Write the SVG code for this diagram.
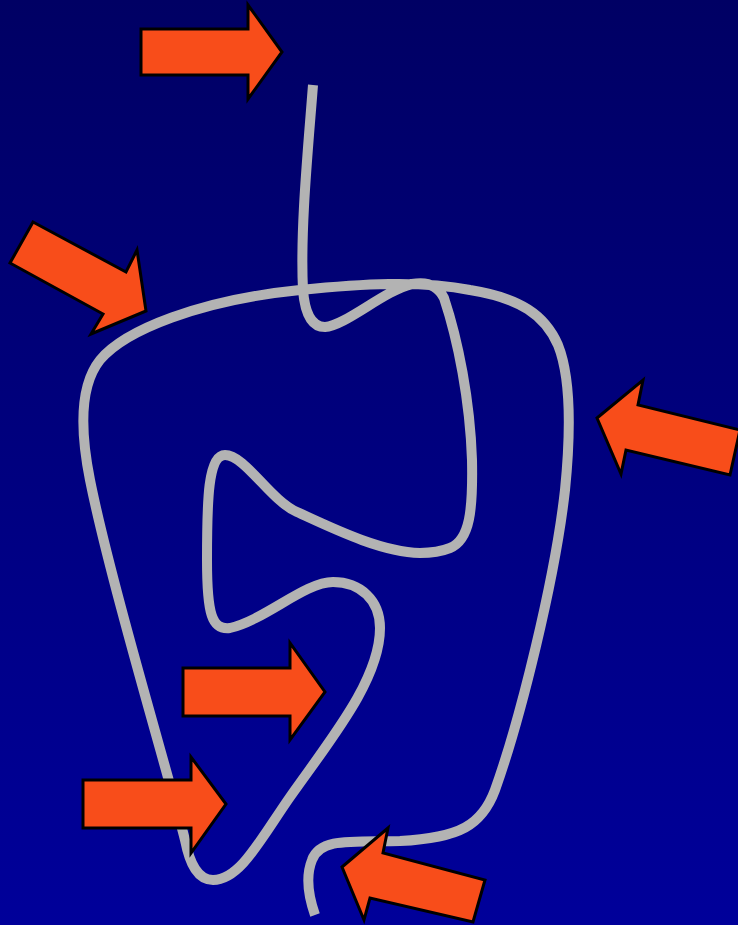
<svg xmlns="http://www.w3.org/2000/svg" width="738" height="925" viewBox="0 0 738 925">
  <defs>
    <linearGradient id="bg" x1="0" y1="0" x2="0" y2="1">
      <stop offset="0" stop-color="#000064"/>
      <stop offset="1" stop-color="#00009a"/>
    </linearGradient>
  </defs>
  <style>
    .rope { fill: none; stroke: #b3b3b3; stroke-width: 10; stroke-linecap: butt; stroke-linejoin: round; }
    .arrow { fill: #f84d1a; stroke: #000; stroke-width: 3; stroke-linejoin: miter; }
  </style>
  <rect x="0" y="0" width="738" height="925" fill="url(#bg)"/>
  <g id="rope">
    <path class="rope" d="M313,85 C308,150 300,230 303,290 C305,315 312,327 325,327 C345,326 385,290 412,284 C428,281 438,286 444,298 C458,340 470,400 472,460 C473,510 470,540 450,548 C440,552 430,553 420,553 C380,552 330,527 297,512 C270,500 245,455 225,455 C208,455 207,500 207,560 C207,615 212,630 230,628 C265,620 305,582 333,582 C360,582 380,600 380,628 C380,680 330,740 290,797 C260,840 240,880 213,880 C198,880 190,865 185,840 C170,780 110,580 90,480 C80,430 80,385 100,360 C125,330 200,300 300,290 C360,284 420,280 470,290 C520,298 545,315 558,345 C572,380 570,440 565,490 C555,580 520,720 495,790 C482,825 460,838 400,841 C350,842 320,838 312,860 C306,875 308,895 315,915"/>
  </g>
  <g id="arrows">
    <g id="arrow-top"><polygon class="arrow" points="141,29 248,29 248,5 282,52 248,99 248,75 141,75"/></g>
    <g id="arrow-topleft"><polygon class="arrow" points="33,222 126,272 137,250 146,311 91,334 103,314 10,263"/></g>
    <g id="arrow-right"><polygon class="arrow" points="597,418 643,380 638,405 740,430 730,475 626,450 621,474"/></g>
    <g id="arrow-bottomright"><polygon class="arrow" points="342,867 388,828 383,853 485,880 473,922 370,898 364,920"/></g>
    <g id="arrow-middle"><polygon class="arrow" points="183,668 290,668 290,643 325,692 290,740 290,716 183,716"/></g>
    <g id="arrow-bottomleft"><polygon class="arrow" points="83,780 191,780 191,757 226,804 191,853 191,828 83,828"/></g>
  </g>
</svg>
